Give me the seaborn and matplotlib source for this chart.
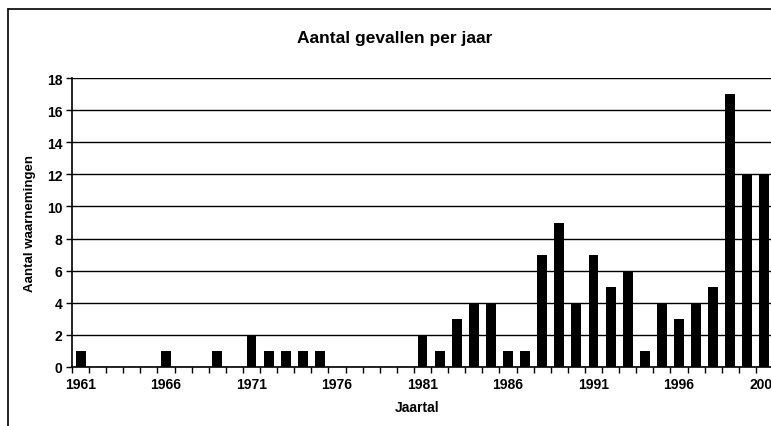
import matplotlib
matplotlib.use("Agg")
import matplotlib.pyplot as plt
import seaborn as sns
import pandas as pd
from matplotlib.lines import Line2D
from matplotlib.ticker import FixedLocator

# waarnemingen per jaar, 1961 t/m 2001
jaren = list(range(1961, 2002))
aantallen = [1, 0, 0, 0, 0, 1, 0, 0, 1, 0,
             2, 1, 1, 1, 1, 0, 0, 0, 0, 0,
             2, 1, 3, 4, 4, 1, 1, 7, 9, 4,
             7, 5, 6, 1, 4, 3, 4, 5, 17, 12,
             12]
y_ticks = list(range(0, 19, 2))

df = pd.DataFrame({"Jaartal": [str(j) for j in jaren], "Aantal": aantallen})

sns.set_style("white")
plt.rcParams['font.family'] = ['Liberation Sans', 'DejaVu Sans']
plt.rcParams['text.color'] = 'black'
plt.rcParams['xtick.labelcolor'] = 'black'
plt.rcParams['ytick.labelcolor'] = 'black'

W, H = 771, 427
fig = plt.figure(figsize=(W / 100, H / 100), dpi=100)
# plot area: left spine at x=72, y=0 at 368, y=18 at 79; right side runs past the edge (cropped scan)
ax = fig.add_axes([72 / W, (H - 368) / H, 701 / W, (368 - 79) / H])

sns.barplot(data=df, x="Jaartal", y="Aantal", color="black", width=0.58,
            saturation=1, linewidth=0, edgecolor="black", ax=ax, zorder=3)

ax.set_xlim(-0.5, len(jaren) - 0.5)
ax.set_ylim(0, 18)
ax.set_yticks(y_ticks)
ax.grid(axis="y", color="black", linewidth=1.0, zorder=0)
ax.grid(axis="x", visible=False)

# labels every 5 years, tick marks between categories
major_pos = list(range(0, len(jaren), 5))
ax.set_xticks(major_pos)
ax.set_xticklabels([str(jaren[i]) for i in major_pos])
ax.xaxis.set_minor_locator(FixedLocator([i - 0.5 for i in range(len(jaren) + 1)]))
ax.tick_params(axis="x", which="major", length=0, pad=7, labelcolor="black")
ax.tick_params(axis="x", which="minor", length=4, width=1, color="black", direction="out", bottom=True)
ax.tick_params(axis="y", length=4, width=1, color="black", direction="out", left=True, pad=3,
               labelcolor="black")

for lab in ax.get_xticklabels() + ax.get_yticklabels():
    lab.set_fontweight("bold")
    lab.set_fontsize(10)

for s in ["top", "right"]:
    ax.spines[s].set_visible(False)
for s in ["left", "bottom"]:
    ax.spines[s].set_color("black")
    ax.spines[s].set_linewidth(1.2)

ax.set_xlabel("")
ax.set_ylabel("")
fig.text(395 / W, 1 - 38 / H, "Aantal gevallen per jaar", ha="center", va="center",
         fontsize=12.5, fontweight="bold", color="black")
fig.text(30 / W, 1 - 224 / H, "Aantal waarnemingen", ha="center", va="center",
         rotation=90, fontsize=9.5, fontweight="bold", color="black")
fig.text(417 / W, 1 - 408 / H, "Jaartal", ha="center", va="center",
         fontsize=10, fontweight="bold", color="black")

# outer chart frame (top and left visible in the scan)
fig.add_artist(Line2D([8 / W, 8 / W], [0, 1 - 10 / H], transform=fig.transFigure,
                      color="black", linewidth=1.2))
fig.add_artist(Line2D([8 / W, 1], [1 - 10 / H, 1 - 10 / H], transform=fig.transFigure,
                      color="black", linewidth=1.2))

fig.savefig("out.png", dpi=100)
